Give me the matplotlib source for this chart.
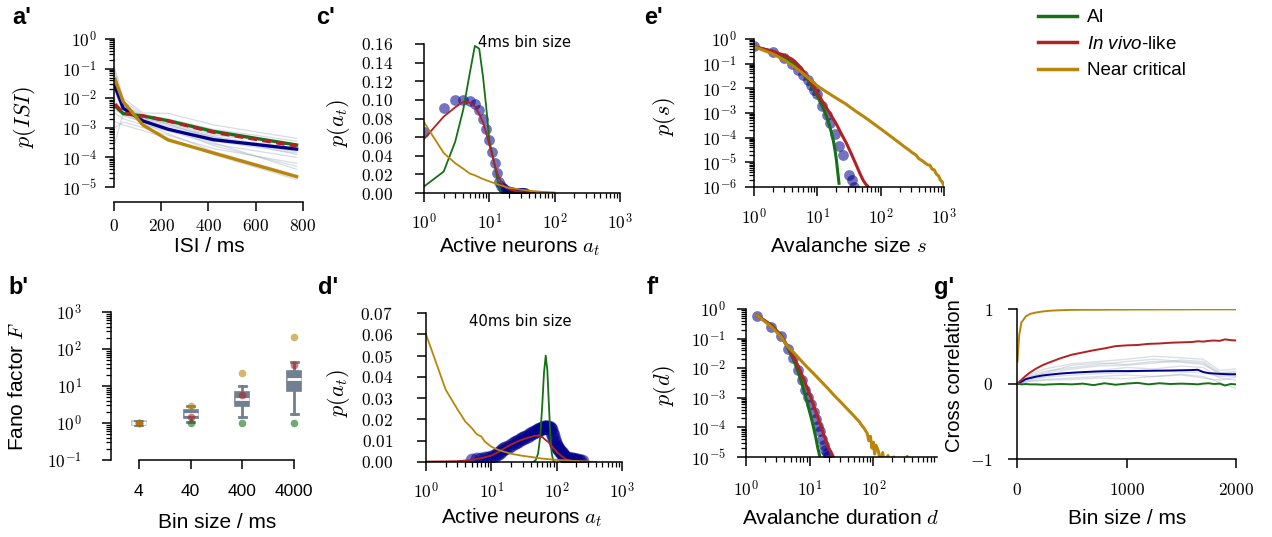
import numpy as np
import matplotlib
matplotlib.use("Agg")
import matplotlib.pyplot as plt
from matplotlib.ticker import FuncFormatter, LogLocator, NullFormatter
from matplotlib.lines import Line2D

plt.rcParams['font.family'] = ['Liberation Sans', 'DejaVu Sans']
plt.rcParams['mathtext.fontset'] = 'cm'
# only used by texts that ask for the 'custom' math family (legend italics)
plt.rcParams['mathtext.rm'] = 'Liberation Sans'
plt.rcParams['mathtext.it'] = 'Liberation Sans:italic'
plt.rcParams['mathtext.bf'] = 'Liberation Sans:bold'

C_AI = '#167016'
C_VIVO = '#b22222'
C_CRIT = '#b8860b'
C_DATA = '#00008b'
C_GREY = '#a7b2c0'
C_BOX = '#708090'

# ---------------- a' : ISI distributions (log10 p) ----------------
isi_x = [4, 39, 123, 229, 420, 773]
isi_data = [-1.59, -2.34, -2.77, -3.05, -3.40, -3.72]
isi_ai = [-2.26, -2.52, -2.60, -2.76, -3.12, -3.58]
isi_vivo = [-2.20, -2.50, -2.60, -2.77, -3.15, -3.62]
isi_crit = [-1.36, -2.12, -2.91, -3.41, -3.85, -4.65]
isi_grey = [
    [-1.0, -2.0, -2.5, -2.51, -2.9, -3.36],
    [-1.3, -2.2, -2.6, -2.8, -3.2, -3.6],
    [-1.8, -2.4, -2.7, -2.95, -3.3, -3.7],
    [-2.0, -2.6, -2.8, -3.05, -3.45, -3.85],
    [-2.5, -2.7, -2.9, -3.1, -3.55, -4.0],
    [-3.0, -2.8, -3.0, -3.25, -3.7, -4.2],
    [-3.5, -2.5, -2.75, -3.0, -3.5, -4.4],
    [-1.5, -2.3, -2.65, -2.9, -3.3, -3.9],
    [-2.2, -2.45, -2.85, -3.2, -3.8, -4.6],
    [-1.2, -2.1, -2.55, -2.7, -3.05, -3.45],
    [-2.8, -2.9, -3.1, -3.35, -3.9, -4.75],
    [-1.7, -2.5, -2.7, -2.85, -3.25, -3.55],
    [-1.1, -2.25, -2.62, -2.88, -3.35, -3.8],
    [-2.4, -2.55, -2.8, -3.0, -3.6, -4.3],
]

# ---------------- b' : Fano factor ----------------
fano_bins = ['4', '40', '400', '4000']
fano_q1 = [0.86, 1.37, 2.85, 7.4]
fano_med = [1.0, 1.8, 4.5, 15.0]
fano_q3 = [1.16, 2.3, 7.0, 25.0]
fano_lo = [0.86, 1.04, 1.43, 1.8]
fano_hi = [1.16, 2.95, 10.0, 44.0]
fano_ai = [1.0, 1.0, 1.0, 1.0]
fano_vivo = [1.0, 1.47, 5.7, 37.0]
fano_crit = [1.0, 2.95, 22.0, 205.0]

# ---------------- c' : active neurons, 4 ms ----------------
c_dots_x = list(range(1, 36))
c_dots_y = [0.065, 0.091, 0.100, 0.100, 0.099, 0.096, 0.089, 0.080, 0.069, 0.057,
            0.044, 0.032, 0.021, 0.012, 0.008, 0.0055, 0.0038, 0.0026, 0.0018, 0.0012,
            0.0009, 0.0007, 0.0005, 0.0004, 0.0003, 0.0003, 0.0002, 0.0002, 0.0002, 0.0001,
            0.0001, 0.0001, 0.0001, 0.0, 0.0]
c_ai_x = list(range(1, 17))
c_ai_y = [0.007, 0.023, 0.055, 0.090, 0.128, 0.158, 0.155, 0.125, 0.091, 0.056,
          0.043, 0.031, 0.018, 0.008, 0.001, 0.0]
c_vivo_x = [1, 2, 3, 4, 5, 6, 7, 8, 9, 10, 11, 12, 13, 14, 16, 18, 21, 25, 30, 38, 50]
c_vivo_y = [0.058, 0.082, 0.092, 0.098, 0.097, 0.093, 0.085, 0.076, 0.064, 0.052,
            0.041, 0.031, 0.023, 0.017, 0.009, 0.0055, 0.0035, 0.002, 0.0012, 0.0006, 0.0]
c_crit_x = [1, 2, 3, 4, 5, 6, 8, 10, 13, 16, 20, 25, 30, 40, 50, 60, 80, 100]
c_crit_y = [0.076, 0.043, 0.032, 0.026, 0.021, 0.019, 0.015, 0.0125, 0.0095, 0.0075,
            0.0055, 0.0045, 0.0036, 0.0025, 0.0018, 0.0014, 0.0009, 0.0005]

# ---------------- d' : active neurons, 40 ms ----------------
d_dots_x = [5, 6, 7, 8, 9, 10, 11, 12, 13, 14, 15, 16, 18, 20, 22, 24, 26, 28, 30, 33,
            36, 39, 42, 45, 48, 51, 54, 57, 60, 63, 66, 69, 72, 75, 78, 81, 84, 87, 90, 94,
            98, 102, 106, 110, 115, 120, 125, 130, 140, 150, 160, 170, 180, 190, 200, 215,
            230, 245]
d_dots_y = [0.0010, 0.0012, 0.0015, 0.0018, 0.0021, 0.0025, 0.0030, 0.0036, 0.0043, 0.0050,
            0.0060, 0.0064, 0.0072, 0.0080, 0.0088, 0.0094, 0.0100, 0.0106, 0.0111, 0.0118,
            0.0124, 0.0130, 0.0135, 0.0140, 0.0145, 0.0149, 0.0153, 0.0157, 0.0160, 0.0163,
            0.0165, 0.0166, 0.0166, 0.0164, 0.0160, 0.0153, 0.0138, 0.0125, 0.0110, 0.0094,
            0.0080, 0.0071, 0.0065, 0.0057, 0.0048, 0.0040, 0.0033, 0.0027, 0.0021, 0.0017,
            0.0015, 0.0013, 0.0012, 0.0011, 0.0011, 0.0009, 0.0006, 0.0004]
d_ai_x = [44, 48, 52, 56, 60, 64, 68, 72, 76, 80, 84, 88, 92]
d_ai_y = [0.0, 0.001, 0.004, 0.012, 0.026, 0.042, 0.050, 0.043, 0.027, 0.013, 0.004, 0.001, 0.0]
d_vivo_x = [1, 2, 3, 4, 5, 7, 10, 13, 17, 20, 24, 28, 33, 38, 42, 46, 50, 53, 56, 60,
            65, 70, 76, 82, 90, 100, 115, 130, 145, 165, 190, 230]
d_vivo_y = [0.0002, 0.0003, 0.0004, 0.0007, 0.0010, 0.0018, 0.0030, 0.0048, 0.0070, 0.0082,
            0.0093, 0.0102, 0.0110, 0.0116, 0.0119, 0.0124, 0.0122, 0.0127, 0.0116, 0.0118,
            0.0108, 0.0100, 0.0092, 0.0080, 0.0063, 0.0048, 0.0031, 0.0019, 0.0011, 0.0006,
            0.0003, 0.0001]
d_crit_x = [1, 2, 3, 4, 5, 6, 7, 8, 10, 12, 15, 20, 30, 40, 60, 90, 150, 200, 300, 400]
d_crit_y = [0.060, 0.034, 0.025, 0.019, 0.016, 0.013, 0.0120, 0.0095, 0.0072, 0.0060,
            0.0050, 0.0039, 0.0029, 0.0024, 0.0016, 0.0011, 0.0007, 0.0005, 0.0002, 0.0]

# ---------------- e' : avalanche size (log10 p) ----------------
e_dots_x = [1, 2, 3, 4, 5, 6, 7, 8, 9, 10, 12, 14, 16, 19, 22, 25, 32, 35, 38]
e_dots_y = [-0.27, -0.54, -0.79, -1.02, -1.26, -1.46, -1.67, -1.87, -2.05, -2.24,
            -2.70, -3.08, -3.40, -3.86, -4.35, -4.72, -5.53, -5.70, -5.98]
e_ai_x = list(range(1, 23))
e_ai_y = [-0.31, -0.50, -0.75, -0.98, -1.20, -1.42, -1.64, -1.86, -2.08, -2.30, -2.54,
          -2.72, -2.93, -3.15, -3.38, -3.62, -3.88, -4.16, -4.50, -4.90, -5.40, -5.85]
e_vivo_x = [1, 2, 3, 4, 5, 6, 7, 8, 10, 12, 14, 17, 20, 24, 29, 35, 41, 47, 53, 58, 63, 66]
e_vivo_y = [-0.31, -0.50, -0.66, -0.82, -1.05, -1.30, -1.55, -1.75, -2.18, -2.52, -2.80,
            -3.15, -3.45, -3.85, -4.24, -4.70, -5.10, -5.45, -5.73, -5.88, -5.98, -6.20]
e_crit_x = [1, 2, 3, 4, 5, 7, 10, 14, 20, 28, 40, 56, 80, 110, 150, 200, 240, 280, 320,
            360, 400, 450, 500, 550, 600, 650, 700, 760, 820, 880, 940, 1000]
e_crit_y = [-0.31, -0.61, -0.85, -1.06, -1.25, -1.55, -1.90, -2.15, -2.40, -2.63, -2.92,
            -3.17, -3.46, -3.72, -3.98, -4.22, -4.38, -4.50, -4.62, -4.70, -4.85, -4.93,
            -5.02, -5.10, -5.12, -5.28, -5.30, -5.48, -5.55, -5.72, -5.80, -5.95]

# ---------------- f' : avalanche duration (log10 p) ----------------
f_dots_x = [1.5, 2.5, 3.5, 4.5, 5.5, 6.5, 7.5, 8.5, 9.5, 10.5, 11.5, 12.5, 13.5, 14.5,
            15.5, 16.5, 17.5, 18.5, 19.5]
f_dots_y = [-0.22, -0.60, -0.90, -1.35, -1.65, -2.05, -2.40, -2.72, -2.98, -3.20, -3.48,
            -3.72, -3.95, -4.13, -4.40, -4.60, -4.75, -4.85, -4.98]
f_ai_x = [1.5, 2.5, 3.5, 4.5, 5.5, 6.5, 7.5, 8.5, 9.5, 10.5, 11.5, 12.5, 13.5, 14.5]
f_ai_y = [-0.22, -0.55, -0.88, -1.30, -1.68, -2.08, -2.50, -2.90, -3.30, -3.65, -4.00,
          -4.35, -4.72, -5.00]
f_vivo_x = [1.5, 2.5, 3.5, 4.5, 5.5, 6.5, 7.5, 8.5, 9.5, 10.5, 11.5, 12.5, 13.5, 15, 17,
            19, 21, 23, 24]
f_vivo_y = [-0.22, -0.55, -0.88, -1.25, -1.58, -1.90, -2.20, -2.50, -2.75, -3.00, -3.25,
            -3.48, -3.68, -3.95, -4.30, -4.60, -4.80, -4.95, -5.05]
f_crit_x = [1.5, 2.5, 3.5, 4.5, 5.5, 7, 9, 12, 16, 20, 25, 30, 36, 42, 48, 55, 60, 65,
            70, 75, 80, 85, 90, 95, 100, 105, 110, 120, 130, 140, 150, 170, 190, 210, 240,
            270, 300, 340, 350]
f_crit_y = [-0.22, -0.60, -0.92, -1.27, -1.45, -1.70, -1.95, -2.22, -2.50, -2.72, -2.95,
            -3.12, -3.30, -3.45, -3.58, -3.72, -3.80, -3.92, -4.00, -4.10, -4.20, -4.45,
            -4.30, -4.70, -4.50, -4.90, -4.60, -4.80, -5.20, -4.85, -5.20, -4.95, -5.30,
            -5.00, -5.30, -5.05, -5.30, -4.98, -5.30]

# ---------------- g' : cross correlation ----------------
g_x = [4, 20, 40, 80, 120, 180, 240, 300, 400, 500, 600, 700, 800, 900, 1000, 1100,
       1200, 1300, 1400, 1500, 1600, 1650, 1700, 1750, 1800, 1850, 1900, 1950, 2000]
g_crit = [0.30, 0.65, 0.82, 0.90, 0.935, 0.955, 0.968, 0.977, 0.984, 0.988, 0.99, 0.99,
          0.991, 0.992, 0.992, 0.993, 0.993, 0.994, 0.994, 0.994, 0.995, 0.995, 0.995,
          0.995, 0.995, 0.995, 0.995, 0.995, 0.995]
g_vivo = [0.0, 0.03, 0.055, 0.11, 0.155, 0.21, 0.255, 0.29, 0.345, 0.39, 0.42, 0.45,
          0.475, 0.505, 0.515, 0.52, 0.535, 0.54, 0.55, 0.555, 0.56, 0.57, 0.565, 0.575,
          0.58, 0.575, 0.595, 0.585, 0.58]
g_data = [0.0, 0.015, 0.03, 0.065, 0.08, 0.10, 0.115, 0.125, 0.14, 0.15, 0.158, 0.165,
          0.17, 0.172, 0.172, 0.174, 0.176, 0.178, 0.18, 0.183, 0.186, 0.19, 0.16, 0.145,
          0.14, 0.135, 0.132, 0.13, 0.13]
g_ai = [0.0, 0.0, -0.005, 0.0, -0.005, -0.005, -0.01, -0.005, 0.0, -0.005, 0.005, -0.015,
        0.01, -0.01, 0.005, 0.015, -0.005, 0.01, 0.0, 0.005, 0.0, -0.005, 0.005, 0.01,
        0.0, 0.005, -0.02, 0.0, -0.005]
g_grey_x = [4, 100, 250, 500, 750, 1000, 1250, 1500, 1700, 1850, 2000]
g_grey = [
    [0, 0.12, 0.20, 0.27, 0.30, 0.33, 0.37, 0.35, 0.33, 0.18, 0.20],
    [0, 0.10, 0.17, 0.22, 0.26, 0.30, 0.33, 0.30, 0.28, 0.12, 0.10],
    [0, 0.08, 0.14, 0.20, 0.24, 0.25, 0.28, 0.32, 0.30, 0.15, 0.17],
    [0, 0.06, 0.10, 0.15, 0.18, 0.22, 0.20, 0.24, 0.22, 0.08, 0.05],
    [0, 0.05, 0.09, 0.12, 0.14, 0.15, 0.18, 0.16, 0.15, 0.10, 0.12],
    [0, 0.04, 0.06, 0.08, 0.10, 0.12, 0.10, 0.13, 0.10, 0.02, -0.06],
    [0, 0.03, 0.05, 0.06, 0.08, 0.07, 0.10, 0.12, 0.08, 0.05, 0.09],
    [0, 0.09, 0.15, 0.25, 0.28, 0.26, 0.30, 0.29, 0.26, 0.15, 0.15],
]

W, H = 1272, 537
fig = plt.figure(figsize=(W / 100, H / 100), dpi=100)
TICK_FS = 12.5
LABEL_FS = 15
MATH_FS = 16


def add_ax(left, top, right, bottom):
    return fig.add_axes([left / W, 1 - bottom / H, (right - left) / W, (bottom - top) / H])


def style(ax, xpad, ypad):
    # pads are given in pixels
    for side in ('top', 'right'):
        ax.spines[side].set_visible(False)
    for side in ('left', 'bottom'):
        ax.spines[side].set_linewidth(1.1)
    ax.tick_params(which='major', direction='out', length=6.5, width=1.1,
                   labelsize=TICK_FS)
    ax.tick_params(which='minor', direction='out', length=3.5, width=0.9)
    ax.tick_params(axis='x', pad=xpad * 0.72)
    ax.tick_params(axis='y', pad=ypad * 0.72)


def log_lab(v, pos):
    return r'$10^{%d}$' % int(round(np.log10(v)))


def plain_lab(v, pos):
    return r'$%g$' % v


def two_dec(v, pos):
    return r'$%.2f$' % v


def log_axis(axis):
    axis.set_major_locator(LogLocator(base=10, numticks=20))
    axis.set_minor_locator(LogLocator(base=10, subs=np.arange(2, 10), numticks=20))
    axis.set_major_formatter(FuncFormatter(log_lab))
    axis.set_minor_formatter(NullFormatter())


def pow10(vals):
    return 10.0 ** np.asarray(vals)


def letter(x, y, s):
    fig.text(x / W, 1 - y / H, s, fontsize=17, fontweight='bold', ha='left', va='top')


def xlab(x, y, s):
    fig.text(x / W, 1 - y / H, s, fontsize=LABEL_FS, ha='center', va='center')


def ylab(x, y, s, fs=LABEL_FS):
    fig.text(x / W, 1 - y / H, s, fontsize=fs, ha='center', va='center', rotation=90)


# ---- a'
ax = add_ax(114, 39, 303, 187)
style(ax, 7, 8)
for g in isi_grey:
    ax.plot(isi_x, pow10(g), color=C_GREY, lw=0.9, alpha=0.45)
ax.plot(isi_x, pow10(isi_data), color=C_DATA, lw=2.4)
ax.plot(isi_x, pow10(isi_ai), color=C_AI, lw=2.4)
ax.plot(isi_x, pow10(isi_vivo), color=C_VIVO, lw=2.4, ls=(0, (2.6, 1.6)))
ax.plot(isi_x, pow10(isi_crit), color=C_CRIT, lw=2.4)
ax.set_yscale('log')
ax.set_ylim(1e-5, 1)
ax.set_xlim(0, 800)
log_axis(ax.yaxis)
ax.set_xticks([0, 200, 400, 600, 800])
ax.xaxis.set_major_formatter(FuncFormatter(plain_lab))
ax.spines['bottom'].set_position(('outward', 11))
ax.spines['bottom'].set_bounds(0, 800)
letter(12, 6, "a'")
ylab(25, 117, r'$p(ISI)$', MATH_FS)
xlab(209, 247, 'ISI / ms')

# ---- b'
ax = add_ax(111, 312, 322, 460)
style(ax, 15, 20)
stats = []
for i in range(4):
    stats.append(dict(q1=fano_q1[i], med=fano_med[i], q3=fano_q3[i],
                      whislo=fano_lo[i], whishi=fano_hi[i], fliers=[]))
pos = np.arange(4)
bp = ax.bxp(stats, positions=pos, widths=0.27, patch_artist=True, showfliers=False,
            boxprops=dict(facecolor=C_BOX, edgecolor=C_BOX, lw=1.2),
            medianprops=dict(color='white', lw=2),
            whiskerprops=dict(color=C_BOX, lw=2),
            capprops=dict(color=C_BOX, lw=2))
# the 4 ms box is flat: it shows up as a pale outline
bp['boxes'][0].set_facecolor('white')
bp['boxes'][0].set_edgecolor('#b8c0c8')
ax.scatter(pos, fano_ai, s=30, color=C_AI, alpha=0.6, lw=0, zorder=5)
ax.scatter(pos, fano_vivo, s=30, color=C_VIVO, alpha=0.6, lw=0, zorder=5)
ax.scatter(pos, fano_crit, s=30, color=C_CRIT, alpha=0.6, lw=0, zorder=5)
ax.set_yscale('log')
ax.set_ylim(0.1, 1000)
log_axis(ax.yaxis)
ax.set_xlim(-0.54, 3.54)
ax.set_xticks(pos)
ax.set_xticklabels(fano_bins, fontsize=12.5)
ax.spines['bottom'].set_bounds(0, 3)
letter(8, 276, "b'")
ylab(18, 386, r'Fano factor $F$')
xlab(217, 522, 'Bin size / ms')

# ---- c'
ax = add_ax(424, 44, 620, 193)
style(ax, 10, 22)
ax.scatter(c_dots_x, c_dots_y, s=60, color=C_DATA, alpha=0.55, lw=0)
ax.plot(c_ai_x, c_ai_y, color=C_AI, lw=1.3)
ax.plot(c_vivo_x, c_vivo_y, color=C_VIVO, lw=1.3)
ax.plot(c_crit_x, c_crit_y, color=C_CRIT, lw=1.3)
ax.set_xscale('log')
ax.set_xlim(1, 1000)
ax.set_ylim(0, 0.16)
log_axis(ax.xaxis)
ax.set_yticks(np.arange(0, 0.161, 0.02))
ax.yaxis.set_major_formatter(FuncFormatter(two_dec))
ax.text(0.276, 1.01, '4ms bin size', transform=ax.transAxes, fontsize=10.7,
        family='DejaVu Sans', ha='left', va='center')
letter(316, 6, "c'")
ylab(338, 123, r'$p(a_t)$', MATH_FS)
xlab(520, 247, r'Active neurons $a_t$')

# ---- d'
ax = add_ax(426, 313, 622, 462)
style(ax, 10, 24)
ax.scatter(d_dots_x, d_dots_y, s=100, color=C_DATA, alpha=0.55, lw=0)
ax.plot(d_ai_x, d_ai_y, color=C_AI, lw=1.3)
ax.plot(d_vivo_x, d_vivo_y, color=C_VIVO, lw=1.3)
ax.plot(d_crit_x, d_crit_y, color=C_CRIT, lw=1.3)
ax.set_xscale('log')
ax.set_xlim(1, 1000)
ax.set_ylim(0, 0.07)
log_axis(ax.xaxis)
ax.set_yticks(np.arange(0, 0.0701, 0.01))
ax.yaxis.set_major_formatter(FuncFormatter(two_dec))
ax.text(0.48, 0.94, '40ms bin size', transform=ax.transAxes, fontsize=10.7,
        family='DejaVu Sans', ha='center', va='center')
letter(318, 276, "d'")
ylab(338, 393, r'$p(a_t)$', MATH_FS)
xlab(522, 518, r'Active neurons $a_t$')

# ---- e'
ax = add_ax(754, 39, 944, 187)
style(ax, 11, 8)
ax.scatter(e_dots_x, pow10(e_dots_y), s=60, color=C_DATA, alpha=0.55, lw=0)
ax.plot(e_ai_x, pow10(e_ai_y), color=C_AI, lw=2.2)
ax.plot(e_vivo_x, pow10(e_vivo_y), color=C_VIVO, lw=2.2)
ax.plot(e_crit_x, pow10(e_crit_y), color=C_CRIT, lw=2.2)
ax.set_xscale('log')
ax.set_yscale('log')
ax.set_xlim(1, 1000)
ax.set_ylim(1e-6, 1)
log_axis(ax.xaxis)
log_axis(ax.yaxis)
letter(644, 6, "e'")
ylab(665, 116, r'$p(s)$', MATH_FS)
xlab(848, 247, r'Avalanche size $s$')

# ---- f'
ax = add_ax(746, 309, 937, 457)
style(ax, 13, 11)
ax.scatter(f_dots_x, pow10(f_dots_y), s=60, color=C_DATA, alpha=0.55, lw=0)
ax.plot(f_ai_x, pow10(f_ai_y), color=C_AI, lw=2.2)
ax.plot(f_vivo_x, pow10(f_vivo_y), color=C_VIVO, lw=2.2)
ax.plot(f_crit_x, pow10(f_crit_y), color=C_CRIT, lw=2.2)
ax.set_xscale('log')
ax.set_yscale('log')
ax.set_xlim(1, 1000)
ax.set_ylim(1e-5, 1)
log_axis(ax.xaxis)
log_axis(ax.yaxis)
ax.set_xticks([1, 10, 100])
ax.xaxis.set_major_formatter(FuncFormatter(log_lab))
letter(647, 276, "f'")
ylab(665, 386, r'$p(d)$', MATH_FS)
xlab(841, 518, r'Avalanche duration $d$')

# ---- g'
ax = add_ax(1017, 309, 1236, 459)
style(ax, 14, 15)
for g in g_grey:
    ax.plot(g_grey_x, g, color=C_GREY, lw=1.0, alpha=0.4)
ax.plot(g_x, g_data, color=C_DATA, lw=1.4)
ax.plot(g_x, g_ai, color=C_AI, lw=1.4)
ax.plot(g_x, g_vivo, color=C_VIVO, lw=1.4)
ax.plot(g_x, g_crit, color=C_CRIT, lw=1.4)
ax.set_xlim(0, 2000)
ax.set_ylim(-1, 1)
ax.set_xticks([0, 1000, 2000])
ax.set_yticks([-1, 0, 1])
ax.xaxis.set_major_formatter(FuncFormatter(plain_lab))
ax.yaxis.set_major_formatter(FuncFormatter(plain_lab))
letter(934, 276, "g'")
ylab(955, 376, 'Cross correlation', fs=14.5)
xlab(1127, 518, 'Bin size / ms')

# ---- legend
handles = [Line2D([], [], color=C_AI, lw=2.5),
           Line2D([], [], color=C_VIVO, lw=2.5),
           Line2D([], [], color=C_CRIT, lw=2.5)]
labels = ['AI', r'$\mathit{In\ vivo}$-like', 'Near critical']
leg = fig.legend(handles, labels, loc='upper left', bbox_to_anchor=(1038 / W, 1 - 9 / H),
                 frameon=False, fontsize=13.5, handlelength=2.1, handletextpad=0.5,
                 labelspacing=0.5, borderpad=0, borderaxespad=0)
for t in leg.get_texts():
    t.set_math_fontfamily('custom')

fig.savefig('out.png', dpi=100)
